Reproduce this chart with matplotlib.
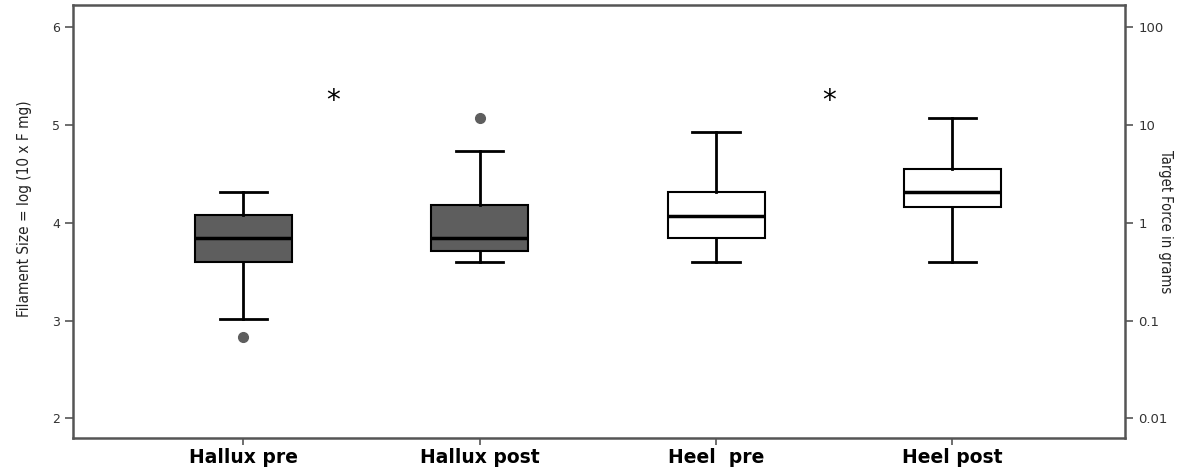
import numpy as np
import matplotlib
matplotlib.use("Agg")
import matplotlib.pyplot as plt

# box statistics (left axis units)
groupes = ["Hallux pre", "Hallux post", "Heel  pre", "Heel post"]
moustache_bas = [3.02, 3.60, 3.60, 3.60]
q1 = [3.60, 3.71, 3.84, 4.16]
mediane = [3.84, 3.84, 4.07, 4.31]
q3 = [4.08, 4.18, 4.31, 4.55]
moustache_haut = [4.31, 4.73, 4.92, 5.07]
aberrants = [[2.83], [5.07], [], []]
remplissage = ["#5e5e5e", "#5e5e5e", "white", "white"]

# significance marks
etoiles_x = [1.38, 3.48]
etoiles_y = [5.24, 5.24]

# right axis: target force in grams
forces = [0.01, 0.1, 1, 10, 100]
forces_lbl = ["0.01", "0.1", "1", "10", "100"]

stats = []
for i, g in enumerate(groupes):
    stats.append({
        "label": g, "whislo": moustache_bas[i], "q1": q1[i], "med": mediane[i],
        "q3": q3[i], "whishi": moustache_haut[i], "fliers": aberrants[i],
    })

fig = plt.figure(figsize=(12, 4.72), dpi=100)
ax = fig.add_axes([0.061, 0.072, 0.8765, 0.917])

bp = ax.bxp(stats, positions=[1, 2, 3, 4], widths=0.41, patch_artist=True,
            boxprops=dict(edgecolor="black", linewidth=1.5),
            medianprops=dict(color="black", linewidth=2.5),
            whiskerprops=dict(color="black", linewidth=2),
            capprops=dict(color="black", linewidth=2),
            flierprops=dict(marker="o", markerfacecolor="#5e5e5e",
                            markeredgecolor="#5e5e5e", markersize=7))
for patch, c in zip(bp["boxes"], remplissage):
    patch.set_facecolor(c)
for cap in bp["caps"]:
    x = cap.get_xdata()
    m = x.mean()
    cap.set_xdata([m - 0.1, m + 0.1])

for x, y in zip(etoiles_x, etoiles_y):
    ax.text(x, y, "*", ha="center", va="center", fontsize=20)

ax.set_xlim(0.28, 4.73)
ax.set_ylim(1.8, 6.22)
ax.set_yticks([2, 3, 4, 5, 6])
ax.set_xticks([1, 2, 3, 4])
ax.set_xticklabels(groupes, fontsize=13.5, fontweight="bold")
ax.tick_params(axis="y", labelsize=9, color="#555555", length=6, width=1.2, labelcolor="#333333")
ax.tick_params(axis="x", color="#555555", length=5, width=1.2, pad=2)
for s in ax.spines.values():
    s.set_color("#555555")
    s.set_linewidth(1.8)

ax.set_ylabel("Filament Size = log (10 x F mg)", fontsize=11, fontstretch="condensed",
              family="DejaVu Sans", color="#222222")
ax.yaxis.set_label_coords(-0.039, 0.53)

ax2 = ax.twinx()
ax2.set_ylim(ax.get_ylim())
ax2.set_yticks(np.log10(forces) + 4)
ax2.set_yticklabels(forces_lbl)
ax2.tick_params(axis="y", labelsize=9.5, color="#555555", length=6, width=1.2, labelcolor="#333333")
for s in ax2.spines.values():
    s.set_visible(False)
ax2.set_ylabel("Target Force in grams", fontsize=10.5, rotation=-90, fontstretch="condensed",
               family="DejaVu Sans", color="#222222")
ax2.yaxis.set_label_coords(1.046, 0.5)

fig.savefig("out.png", dpi=100)
